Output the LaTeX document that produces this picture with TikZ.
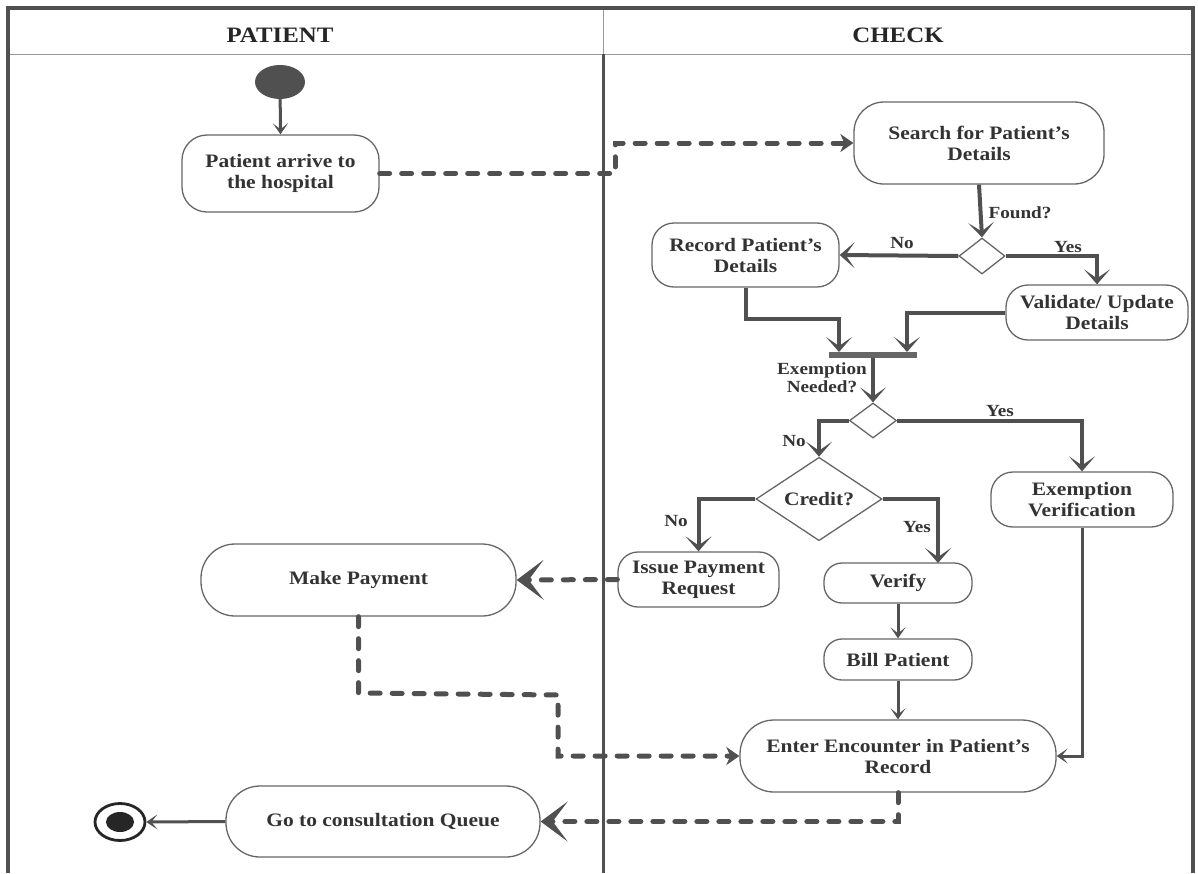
\documentclass[tikz,border=0pt]{standalone}
\usepackage{fontspec}
\setmainfont{Liberation Serif}[FakeStretch=1.13]
\usetikzlibrary{arrows.meta,shapes.geometric}
\definecolor{ln}{HTML}{505050}
\definecolor{bx}{HTML}{666666}
\definecolor{tx}{HTML}{333333}
\tikzset{
 act/.style={draw=bx, line width=1.3pt, fill=white, rounded corners=#1, inner sep=0pt, align=center, text=tx, font=\fontsize{19}{21}\selectfont\bfseries},
 act/.default=22pt,
 dec/.style={draw=bx, line width=1.3pt, diamond, inner sep=0pt, fill=white, text=tx, font=\fontsize{19}{21}\selectfont\bfseries},
 thickarr/.style={draw=ln, line width=4pt, -{Stealth[length=15pt,width=26pt,inset=9pt]}},
 thinarr/.style={draw=ln, line width=3pt, -{Stealth[length=11pt,width=15pt,inset=6pt]}},
 dasharr/.style={draw=ln, line width=5pt, line cap=round, dash pattern=on 10pt off 12pt},
 dashbig/.style={dasharr, -{Stealth[length=27pt,width=40pt,inset=15pt]}},
 dashsmall/.style={dasharr, -{Stealth[length=13pt,width=18pt,inset=4pt]}},
 lbl/.style={text=tx, font=\fontsize{17}{18}\selectfont\bfseries, inner sep=0pt, align=center},
 hdr/.style={text=black!85, font=\fontsize{22}{24}\selectfont\bfseries, inner sep=0pt, anchor=base},
}
\begin{document}
\begin{tikzpicture}[x=1pt,y=-1pt]
\useasboundingbox (0,0) rectangle (1198,873);
% frame
\draw[line width=1pt, draw=black!40] (8,54) -- (1193,54);
\draw[line width=1pt, draw=black!40] (603,8) -- (603,54);
\draw[line width=3pt, draw=ln] (603,54) -- (603,873);
\draw[line width=3.5pt, draw=ln] (8,873) -- (8,8) -- (1193,8) -- (1193,873);
\node[hdr] (hp) at (280,42) {PATIENT};
\node[hdr] (hc) at (898,42) {CHECK};
% nodes
\node[ellipse, fill=ln, minimum width=50pt, minimum height=34pt, inner sep=0pt] (start) at (280,82) {};
\node[act=25pt, minimum width=197pt, minimum height=77pt] (arrive) at (280.5,173.5) {Patient arrive to\\the hospital};
\node[act=30pt, minimum width=250pt, minimum height=82pt] (search) at (979,143) {Search for Patient's\\Details};
\node[dec, minimum width=46pt, minimum height=36pt] (dec1) at (982,256) {};
\node[act=22pt, minimum width=187pt, minimum height=64pt] (record) at (745.5,255) {Record Patient's\\Details};
\node[act=22pt, minimum width=182pt, minimum height=55pt] (validate) at (1097,312.5) {Validate/ Update\\Details};
\node[fill=black!60, minimum width=88pt, minimum height=6pt, inner sep=0pt] (bar) at (873,355) {};
\coordinate (barL) at (839,352);
\coordinate (barR) at (907,352);
\node[dec, minimum width=47pt, minimum height=35pt] (dec2) at (873,420.5) {};
\node[dec, minimum width=126pt, minimum height=62pt] (credit) at (819,499) {Credit?};
\node[act=20pt, minimum width=161pt, minimum height=55pt] (issue) at (698.5,579.5) {Issue Payment\\Request};
\node[act=18pt, minimum width=148pt, minimum height=40pt] (verify) at (898,583) {Verify};
\node[act=18pt, minimum width=148pt, minimum height=41pt] (bill) at (898,659.5) {Bill Patient};
\node[act=22pt, minimum width=182pt, minimum height=55pt] (exver) at (1082,499.5) {Exemption\\Verification};
\node[act=34pt, minimum width=316pt, minimum height=72pt] (enter) at (898,756) {Enter Encounter in Patient's\\Record};
\node[act=34pt, minimum width=315pt, minimum height=72pt] (pay) at (358.5,580) {Make Payment};
\node[act=34pt, minimum width=314pt, minimum height=71pt] (goq) at (383,821.5) {Go to consultation Queue};
\node[ellipse, draw=black!85, line width=2.8pt, fill=white, minimum width=50pt, minimum height=37pt, inner sep=0pt] (final) at (120,822) {};
\node[ellipse, fill=black!85, minimum width=28pt, minimum height=20pt, inner sep=0pt] (finalin) at (120,822) {};
% labels
\node[lbl] (lfound) at (1020,213) {Found?};
\node[lbl] (lno1) at (902,243) {No};
\node[lbl] (lyes1) at (1068,247) {Yes};
\node[lbl] (lexn) at (822,378) {Exemption\\Needed?};
\node[lbl] (lno2) at (794,441) {No};
\node[lbl] (lyes2) at (1000,411) {Yes};
\node[lbl] (lno3) at (676,521) {No};
\node[lbl] (lyes3) at (917,527) {Yes};
% connectors
\coordinate (d1a) at (615,173.5);
\coordinate (d1b) at (615,143);
\coordinate (vtop) at (938,563);
\coordinate (p1) at (358.5,693);
\coordinate (p2) at (558,695);
\draw[thinarr] (start) -- (arrive.north);
\draw[dashsmall] (arrive.east) -- (d1a) -- (d1b) -- (search.west);
\draw[thickarr] (search.south) -- (dec1.north);
\draw[thickarr] (dec1.west) -- (record.east);
\draw[thickarr] (dec1.east) -| (validate.north);
\draw[thickarr] (record.south) -- ++(0,31) -| (barL);
\draw[thickarr] (validate.west) -| (barR);
\draw[thickarr] (bar.south) -- (dec2.north);
\draw[thickarr] (dec2.west) -| (credit.north);
\draw[thickarr] (dec2.east) -| (exver.north);
\draw[thickarr] (credit.west) -| (issue.north);
\draw[thickarr] (credit.east) -| (vtop);
\draw[thinarr] (verify.south) -- (bill.north);
\draw[thinarr] (bill.south) -- (enter.north);
\draw[thinarr] (exver.south) |- (enter.east);
\draw[dashbig] (issue.west) -- (pay.east);
\draw[dashsmall] (pay.south) -- (p1) -- (p2) |- (enter.west);
\draw[dashbig] (enter.south) |- (goq.east);
\draw[thinarr] (goq.west) -- (final.east);
\end{tikzpicture}
\end{document}
